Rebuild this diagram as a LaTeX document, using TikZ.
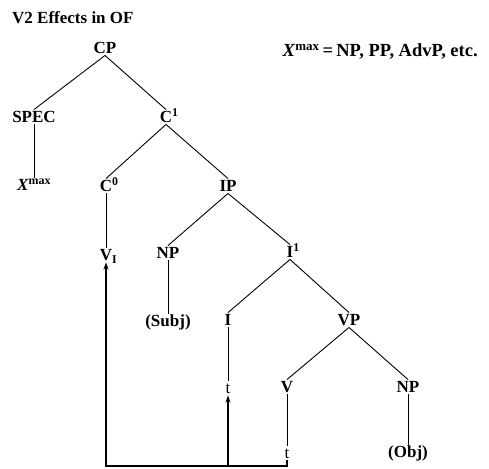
\documentclass[tikz,border=0pt]{standalone}
\usepackage{fontspec}
\setmainfont{Liberation Serif}
\usetikzlibrary{arrows.meta}
\begin{document}
\begin{tikzpicture}[x=1pt,y=-1pt,
  lab/.style={inner sep=1.5pt,text height=11.5pt,text depth=0pt,font=\fontsize{17}{20}\selectfont\bfseries},
  trace/.style={lab,font=\fontsize{17}{20}\selectfont},
  branch/.style={line width=0.9pt},
  move/.style={line width=1.3pt,-{Stealth[length=7pt,width=5pt]}}]
\useasboundingbox (0,0) rectangle (489,468);
\node[anchor=base west,inner sep=0pt,font=\fontsize{17}{20}\selectfont\bfseries] (title) at (12,24) {V2 Effects in OF};
\node[anchor=west,lab,font=\fontsize{18.5}{20}\selectfont\bfseries] (note) at (281,51) {\textit{X}\textsuperscript{max}\,=\,NP, PP, AdvP, etc.};
\node[lab] (cp) at (105,48) {CP};
\node[lab] (spec) at (34,117) {SPEC};
\node[lab] (c1) at (166,117) {C\rlap{\textsuperscript{1}}};
\node[lab] (xmax) at (34,185) {\textit{X}\textsuperscript{max}};
\node[lab] (c0) at (106,186) {C\rlap{\textsuperscript{0}}};
\node[lab] (ip) at (228,186) {IP};
\node[lab] (vi) at (106,255) {V\rlap{\textsubscript{I}}};
\node[lab] (np1) at (168,253) {NP};
\node[lab] (i1) at (290,252) {I\rlap{\textsuperscript{1}}};
\node[lab] (subj) at (168,321) {(Subj)};
\node[lab] (i) at (228,320) {I};
\node[lab] (vp) at (349,320) {VP};
\node[trace] (t1) at (228,388) {t};
\node[lab] (v) at (287,387) {V};
\node[lab] (np2) at (408,387) {NP};
\node[trace] (t2) at (287,453) {t};
\node[lab] (obj) at (408,452) {(Obj)};
\coordinate (bl) at (106,466);
\draw[branch] (spec.north) -- (cp.south) -- (c1.north);
\draw[branch] (spec.south) -- (xmax.north);
\draw[branch] (c0.north) -- (c1.south) -- (ip.north);
\draw[branch] (c0.south) -- (vi.north);
\draw[branch] (np1.north) -- (ip.south) -- (i1.north);
\draw[branch] (np1.south) -- (subj.north);
\draw[branch] (i.north) -- (i1.south) -- (vp.north);
\draw[branch] (i.south) -- (t1.north);
\draw[branch] (v.north) -- (vp.south) -- (np2.north);
\draw[branch,line width=0.6pt] (v.south) -- (t2.north);
\draw[branch] (np2.south) -- (obj.north);
\draw[move] (t2.south) |- (bl) -- (vi.south);
\draw[move] (t1 |- bl) -- (t1.south);
\end{tikzpicture}
\end{document}
